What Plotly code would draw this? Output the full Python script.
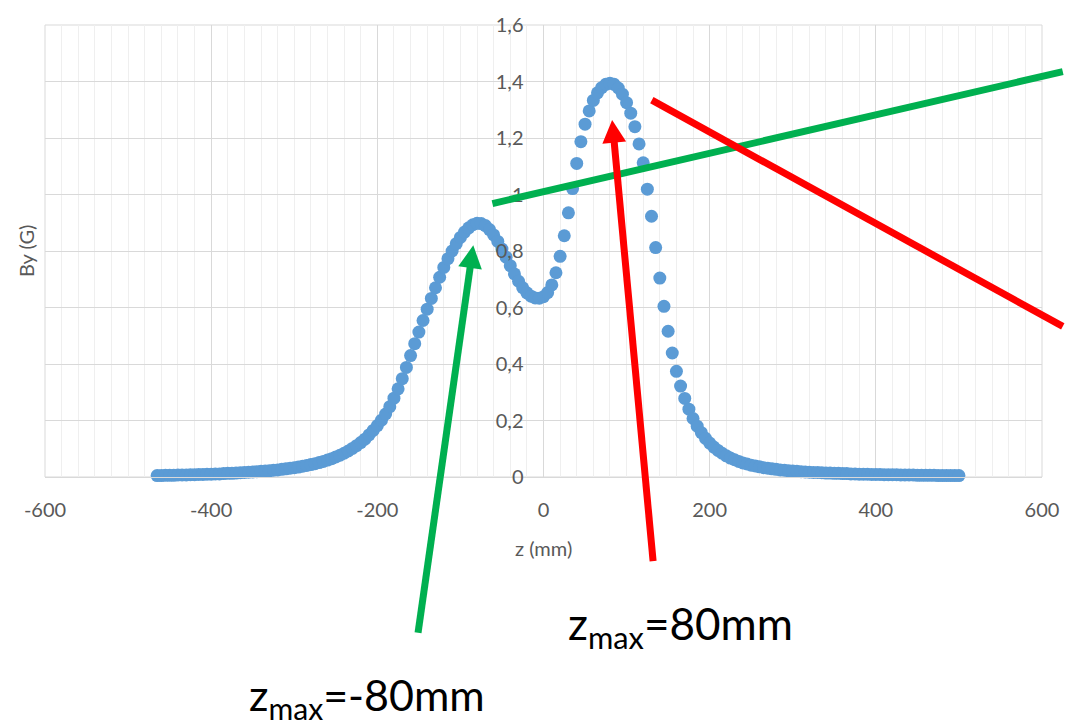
import math
import plotly.graph_objects as go

# ---------------- data ----------------
Z_MM = list(range(-465, 505, 5))  # sample positions (mm), 5 mm step
BY_G = [
    0.005, 0.005, 0.006, 0.006, 0.006, 0.007, 0.007, 0.007, 0.008, 0.008,   # -465..-420
    0.009, 0.009, 0.010, 0.010, 0.011, 0.011, 0.012, 0.013, 0.013, 0.014,   # -415..-370
    0.015, 0.016, 0.017, 0.018, 0.019, 0.020, 0.021, 0.022, 0.024, 0.025,   # -365..-320
    0.027, 0.029, 0.031, 0.033, 0.035, 0.038, 0.041, 0.044, 0.047, 0.051,   # -315..-270
    0.055, 0.060, 0.065, 0.071, 0.077, 0.084, 0.092, 0.101, 0.111, 0.122,   # -265..-220
    0.134, 0.149, 0.165, 0.182, 0.201, 0.223, 0.249, 0.279, 0.312, 0.348,   # -215..-170
    0.388, 0.430, 0.472, 0.513, 0.554, 0.594, 0.632, 0.670, 0.707, 0.742,   # -165..-120
    0.773, 0.800, 0.826, 0.848, 0.867, 0.882, 0.893, 0.898, 0.897, 0.890,   # -115..-70
    0.876, 0.857, 0.834, 0.807, 0.778, 0.748, 0.719, 0.693, 0.670, 0.652,   # -65..-20
    0.640, 0.634, 0.633, 0.638, 0.653, 0.680, 0.723, 0.781, 0.854, 0.935,   # -15..30
    1.021, 1.110, 1.187, 1.249, 1.296, 1.333, 1.360, 1.378, 1.390, 1.394,   # 35..80
    1.390, 1.377, 1.355, 1.325, 1.288, 1.240, 1.179, 1.112, 1.019, 0.923,   # 85..130
    0.812, 0.704, 0.604, 0.516, 0.439, 0.374, 0.322, 0.278, 0.240, 0.207,   # 135..180
    0.180, 0.157, 0.137, 0.120, 0.106, 0.094, 0.084, 0.075, 0.067, 0.061,   # 185..230
    0.055, 0.050, 0.046, 0.042, 0.039, 0.036, 0.033, 0.031, 0.029, 0.027,   # 235..280
    0.025, 0.024, 0.022, 0.021, 0.020, 0.019, 0.018, 0.017, 0.016, 0.016,   # 285..330
    0.015, 0.014, 0.014, 0.013, 0.013, 0.012, 0.012, 0.011, 0.011, 0.010,   # 335..380
    0.010, 0.010, 0.009, 0.009, 0.009, 0.008, 0.008, 0.008, 0.008, 0.007,   # 385..430
    0.007, 0.007, 0.007, 0.006, 0.006, 0.006, 0.006, 0.006, 0.005, 0.005,   # 435..480
    0.005, 0.005, 0.005, 0.005,                                             # 485..500
]

X_TICKS = [-600, -400, -200, 0, 200, 400, 600]
X_TICK_TEXT = ["-600", "-400", "-200", "0", "200", "400", "600"]
Y_TICKS = [0, 0.2, 0.4, 0.6, 0.8, 1.0, 1.2, 1.4, 1.6]
Y_TICK_TEXT = ["0", "0,2", "0,4", "0,6", "0,8", "1", "1,2", "1,4", "1,6"]

X_TITLE = "z (mm)"
Y_TITLE = "By (G)"
LABEL_POS = "z<sub>max</sub>=80mm"
LABEL_NEG = "z<sub>max</sub>=-80mm"

X_RANGE = [-600, 600]
Y_RANGE = [0, 1.6]

BLUE = "#5B9BD5"
GREEN = "#00B050"
RED = "#FF0000"
GREY_TXT = "#595959"
FONT = "Lato, Carlito, 'Open Sans', sans-serif"

# figure geometry
FIG_W, FIG_H = 1071, 725
M_L, M_R, M_T, M_B = 45, 21, 21, 248
PW, PH = FIG_W - M_L - M_R, FIG_H - M_T - M_B

fig = go.Figure()
fig.add_trace(go.Scatter(
    x=Z_MM, y=BY_G, mode="markers",
    marker=dict(color=BLUE, size=13, line=dict(width=0)),
    cliponaxis=False, hoverinfo="skip",
))

# plot area frame
fig.add_shape(type="rect", xref="paper", yref="paper", x0=0, x1=1, y0=0, y1=1,
              line=dict(color="#d9d9d9", width=1), layer="below")


def data_to_px(z, b):
    """data -> pixel offsets inside the plot area (y up)"""
    return ((z - X_RANGE[0]) / (X_RANGE[1] - X_RANGE[0]) * PW,
            (b - Y_RANGE[0]) / (Y_RANGE[1] - Y_RANGE[0]) * PH)


def px_to_paper(p):
    return p[0] / PW, p[1] / PH


def guide_line(a, b, color, width=7):
    pa, pb = px_to_paper(data_to_px(*a)), px_to_paper(data_to_px(*b))
    fig.add_shape(type="line", xref="paper", yref="paper",
                  x0=pa[0], y0=pa[1], x1=pb[0], y1=pb[1],
                  line=dict(color=color, width=width), layer="above")


def arrow(tip, tail, color, width=7, head_len=23, head_half=12):
    t = data_to_px(*tip)
    s = data_to_px(*tail)
    dx, dy = t[0] - s[0], t[1] - s[1]
    n = math.hypot(dx, dy)
    ux, uy = dx / n, dy / n
    bx, by = t[0] - ux * head_len, t[1] - uy * head_len
    px_, py_ = -uy, ux
    # shaft
    se = (bx + ux * 2, by + uy * 2)
    a0, a1 = px_to_paper(s), px_to_paper(se)
    fig.add_shape(type="line", xref="paper", yref="paper",
                  x0=a0[0], y0=a0[1], x1=a1[0], y1=a1[1],
                  line=dict(color=color, width=width), layer="above")
    # head
    pts = [t, (bx + px_ * head_half, by + py_ * head_half),
           (bx - px_ * head_half, by - py_ * head_half)]
    pp = [px_to_paper(p) for p in pts]
    path = "M {:.5f},{:.5f} L {:.5f},{:.5f} L {:.5f},{:.5f} Z".format(
        pp[0][0], pp[0][1], pp[1][0], pp[1][1], pp[2][0], pp[2][1])
    fig.add_shape(type="path", xref="paper", yref="paper", path=path,
                  fillcolor=color, line=dict(color=color, width=0), layer="above")


guide_line((-61.5, 0.968), (625, 1.435), GREEN)     # green guide line
guide_line((130.4, 1.334), (625, 0.533), RED)       # red guide line
arrow((-84.5, 0.82), (-151, -0.551), GREEN)         # green arrow
arrow((82.6, 1.264), (131.9, -0.298), RED)          # red arrow

# axis titles
fig.add_annotation(text=X_TITLE, xref="paper", yref="paper", x=0.5, y=-0.156,
                   xanchor="center", yanchor="middle",
                   showarrow=False, font=dict(size=20, color=GREY_TXT, family=FONT))
fig.add_annotation(text=Y_TITLE, xref="paper", yref="paper", x=-0.019, y=0.5,
                   xanchor="center", yanchor="middle",
                   textangle=-90, showarrow=False, font=dict(size=20, color=GREY_TXT, family=FONT))

# big labels
fig.add_annotation(text=LABEL_POS, xref="paper", yref="paper", x=0.637, y=-0.330,
                   xanchor="center", yanchor="middle",
                   showarrow=False, font=dict(size=44, color="black", family=FONT))
fig.add_annotation(text=LABEL_NEG, xref="paper", yref="paper", x=0.323, y=-0.488,
                   xanchor="center", yanchor="middle",
                   showarrow=False, font=dict(size=43, color="black", family=FONT))

fig.update_layout(
    width=FIG_W, height=FIG_H,
    margin=dict(l=M_L, r=M_R, t=M_T, b=M_B),
    paper_bgcolor="white", plot_bgcolor="white",
    showlegend=False,
    font=dict(family=FONT, size=20, color=GREY_TXT),
    xaxis=dict(range=X_RANGE, tickmode="array", tickvals=X_TICKS, ticktext=X_TICK_TEXT,
               showgrid=True, gridcolor="#d9d9d9", gridwidth=1,
               minor=dict(tickmode="linear", tick0=-600, dtick=20, showgrid=True,
                          gridcolor="#efefef", gridwidth=1),
               zeroline=False, showline=True, linecolor="#d9d9d9", linewidth=1,
               ticks="", ticklabelstandoff=15, fixedrange=True),
    yaxis=dict(range=Y_RANGE, tickmode="array", tickvals=Y_TICKS, ticktext=Y_TICK_TEXT,
               showgrid=True, gridcolor="#d9d9d9", gridwidth=1,
               zeroline=False, showline=False, anchor="free", position=0.5,
               ticks="", ticklabelstandoff=20, fixedrange=True),
)

fig.write_html("out.html")
